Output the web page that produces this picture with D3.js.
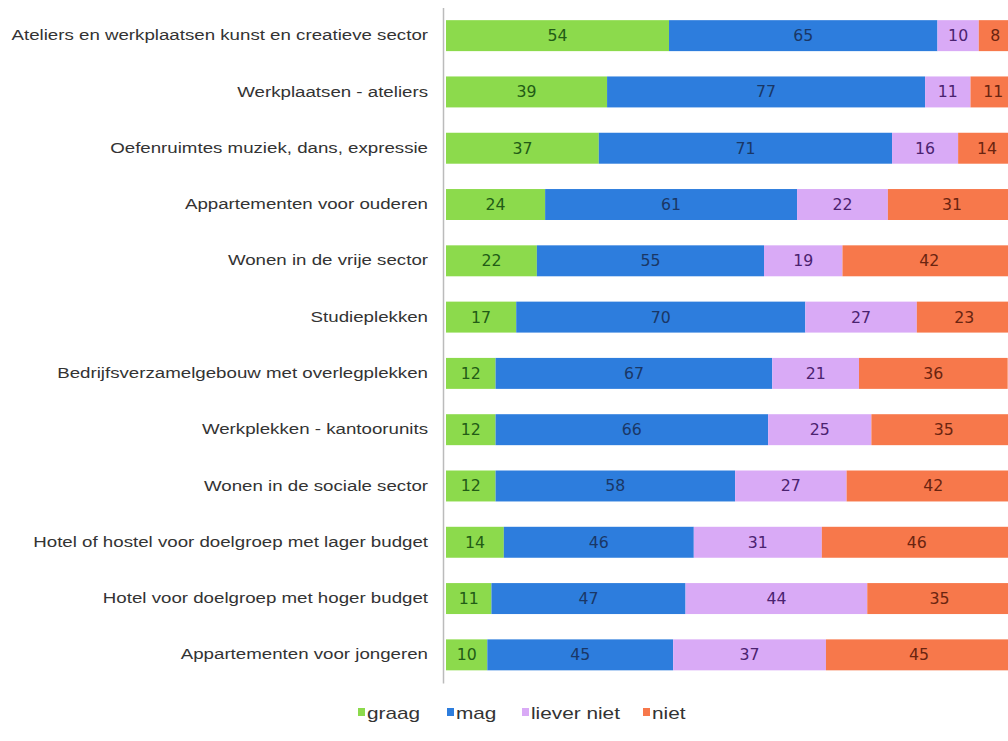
<!DOCTYPE html>
<html>
<head>
<meta charset="utf-8">
<script src="https://cdn.jsdelivr.net/npm/d3@7"></script>
<style>
  body { margin: 0; background: #fff; }
  #chart { width: 1008px; height: 741px; }
</style>
</head>
<body>
<div id="chart"></div>
<script>
// categories, top to bottom
let categories = [
  "Ateliers en werkplaatsen kunst en creatieve sector",
  "Werkplaatsen - ateliers",
  "Oefenruimtes muziek, dans, expressie",
  "Appartementen voor ouderen",
  "Wonen in de vrije sector",
  "Studieplekken",
  "Bedrijfsverzamelgebouw met overlegplekken",
  "Werkplekken - kantoorunits",
  "Wonen in de sociale sector",
  "Hotel of hostel voor doelgroep met lager budget",
  "Hotel voor doelgroep met hoger budget",
  "Appartementen voor jongeren"
];

let seriesNames = ["graag", "mag", "liever niet", "niet"];
let graag = [54, 39, 37, 24, 22, 17, 12, 12, 12, 14, 11, 10];
let mag = [65, 77, 71, 61, 55, 70, 67, 66, 58, 46, 47, 45];
let lieverNiet = [10, 11, 16, 22, 19, 27, 21, 25, 27, 31, 44, 37];
let niet = [8, 11, 14, 31, 42, 23, 36, 35, 42, 46, 35, 45];

let fills = ["#8cda4c", "#2d7ddd", "#d9aaf6", "#f7784b"];
let textFills = ["#225c16", "#1a3766", "#4b2270", "#6a2410"];

// the source picture is stretched sideways, so the text is too
let stretch = 1.29;

let rows = categories.map(function (c, i) {
  return { name: c, "graag": graag[i], "mag": mag[i], "liever niet": lieverNiet[i], "niet": niet[i] };
});

let width = 1008;
let height = 741;

let svg = d3.select("#chart").append("svg")
  .attr("width", width)
  .attr("height", height);

let x = d3.scaleLinear()
  .domain([0, 140])
  .range([446, 446 + 140 * 4.13]);

let y = d3.scaleBand()
  .domain(categories)
  .range([7.5, 683])
  .paddingInner(0.45)
  .paddingOuter(0.225);

let layers = d3.stack().keys(seriesNames)(rows);

let layer = svg.selectAll("g.layer")
  .data(layers)
  .enter()
  .append("g")
  .attr("class", "layer");

layer.each(function (l, li) {
  let g = d3.select(this);

  g.selectAll("rect")
    .data(l)
    .enter()
    .append("rect")
    .attr("x", function (d) { return x(d[0]); })
    .attr("y", function (d) { return y(d.data.name); })
    .attr("width", function (d) { return x(d[1]) - x(d[0]); })
    .attr("height", y.bandwidth())
    .attr("fill", fills[li]);

  g.selectAll("g.val")
    .data(l)
    .enter()
    .append("g")
    .attr("class", "val")
    .attr("transform", function (d) {
      return `translate(${(x(d[0]) + x(d[1])) / 2}, ${y(d.data.name) + y.bandwidth() / 2})`;
    })
    .append("text")
    .attr("transform", "scale(1.05,1)")
    .attr("dy", "0.36em")
    .attr("text-anchor", "middle")
    .attr("font-family", "'DejaVu Sans', sans-serif")
    .attr("font-size", 15)
    .attr("fill", textFills[li])
    .text(function (d) { return d[1] - d[0]; });
});

// category axis
let yAxis = d3.axisLeft(y).tickSize(0).tickPadding(0);
let ax = svg.append("g")
  .attr("transform", "translate(443,0)")
  .call(yAxis);
ax.select(".domain")
  .attr("stroke", "#bbbbbb")
  .attr("stroke-width", 1.5);
ax.selectAll(".tick text")
  .attr("x", -15 / stretch)
  .attr("transform", `scale(${stretch},1)`)
  .attr("font-family", "'Liberation Sans', Arial, sans-serif")
  .attr("font-size", 14.5)
  .attr("fill", "#333");

// legend
let legendX = [358, 447, 522, 643];
let legend = svg.selectAll("g.legend")
  .data(seriesNames)
  .enter()
  .append("g")
  .attr("class", "legend")
  .attr("transform", function (d, i) { return `translate(${legendX[i]}, 717)`; });

legend.append("rect")
  .attr("x", 0)
  .attr("y", -9)
  .attr("width", 7)
  .attr("height", 8)
  .attr("fill", function (d, i) { return fills[i]; });

legend.append("text")
  .attr("x", 9 / 1.3)
  .attr("y", 0)
  .attr("dy", "0.1em")
  .attr("transform", "scale(1.3,1)")
  .attr("font-family", "'Liberation Sans', Arial, sans-serif")
  .attr("font-size", 16)
  .attr("fill", "#333")
  .text(function (d) { return d; });
</script>
</body>
</html>
